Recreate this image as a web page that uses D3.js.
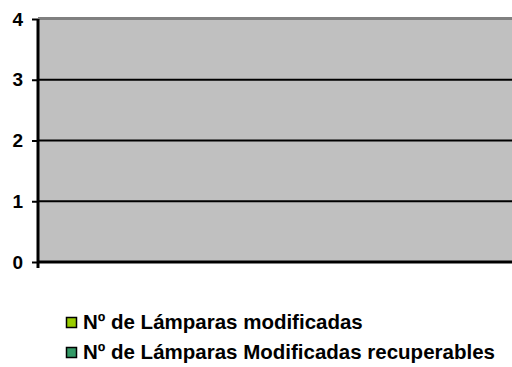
<!DOCTYPE html>
<html>
<head>
<meta charset="utf-8"/>
<style>
  body { margin: 0; background: #fff; }
  text { font-family: "Liberation Sans", Arial, sans-serif; font-weight: bold; }
</style>
</head>
<body>
<svg id="chart" width="512" height="367"></svg>
<script src="https://d3js.org/d3.v7.min.js"></script>
<script>
// data
var categories = [""];
var seriesNames = ["Nº de Lámparas modificadas", "Nº de Lámparas Modificadas recuperables"];
var modificadas = [0];
var recuperables = [0];
var yTicks = [0, 1, 2, 3, 4];
var colors = ["#99CC00", "#339966"];

var margin = {top: 19, right: 0, bottom: 105, left: 38};
var width = 512 - margin.left - margin.right;
var height = 367 - margin.top - margin.bottom;

var svg = d3.select("#chart");
var chart = svg.append("g")
  .attr("transform", "translate(" + margin.left + "," + margin.top + ")");

var y = d3.scaleLinear().domain([0, 4]).range([height, 0]);
var x = d3.scaleBand().domain(categories).range([0, width]).padding(0.3);
var xs = d3.scaleBand().domain(d3.range(seriesNames.length)).range([0, x.bandwidth()]);

// plot background
chart.append("rect")
  .attr("x", 0).attr("y", 0)
  .attr("width", width).attr("height", height)
  .attr("fill", "#C0C0C0");

// top border
chart.append("line")
  .attr("x1", 0).attr("x2", width)
  .attr("y1", -0.5).attr("y2", -0.5)
  .attr("stroke", "#808080").attr("stroke-width", 3);

// gridlines
chart.selectAll(".grid")
  .data(yTicks.filter(function(d){ return d > 0 && d < 4; }))
  .enter().append("line")
  .attr("x1", 0).attr("x2", width)
  .attr("y1", function(d){ return y(d); })
  .attr("y2", function(d){ return y(d); })
  .attr("stroke", "#000").attr("stroke-width", 2);

// bars (all zero)
var seriesData = [modificadas, recuperables];
seriesData.forEach(function(vals, s) {
  chart.selectAll(".bar" + s)
    .data(vals)
    .enter().append("rect")
    .attr("x", function(d, i){ return x(categories[i]) + xs(s); })
    .attr("y", function(d){ return y(d); })
    .attr("width", xs.bandwidth())
    .attr("height", function(d){ return height - y(d); })
    .attr("fill", colors[s])
    .attr("stroke", "#000");
});

// y axis
var yAxis = chart.append("g")
  .call(d3.axisLeft(y).tickValues(yTicks).tickSize(6).tickPadding(9).tickFormat(d3.format("d")));
yAxis.select(".domain").remove();
yAxis.selectAll(".tick line").attr("stroke", "#000").attr("stroke-width", 2);
yAxis.selectAll(".tick text")
  .attr("font-size", "19px").attr("fill", "#000")
  .style("font-family", '"Liberation Sans", Arial, sans-serif').style("font-weight", "bold");

chart.append("line")
  .attr("x1", 0).attr("x2", 0)
  .attr("y1", 0).attr("y2", height + 6)
  .attr("stroke", "#000").attr("stroke-width", 3);

// x axis
chart.append("line")
  .attr("x1", 0).attr("x2", width)
  .attr("y1", height).attr("y2", height)
  .attr("stroke", "#000").attr("stroke-width", 3);

// legend
var legend = svg.append("g").attr("transform", "translate(66,317)");
var item = legend.selectAll("g")
  .data(seriesNames)
  .enter().append("g")
  .attr("transform", function(d, i){ return "translate(0," + (i * 30) + ")"; });
item.append("rect")
  .attr("x", 0.5).attr("y", 0.5)
  .attr("width", 10).attr("height", 10)
  .attr("fill", function(d, i){ return colors[i]; })
  .attr("stroke", "#000").attr("stroke-width", 1.5);
item.append("text")
  .attr("x", 17).attr("y", 12)
  .attr("font-size", "20.5px")
  .attr("fill", "#000")
  .text(function(d){ return d; });
</script>
</body>
</html>
